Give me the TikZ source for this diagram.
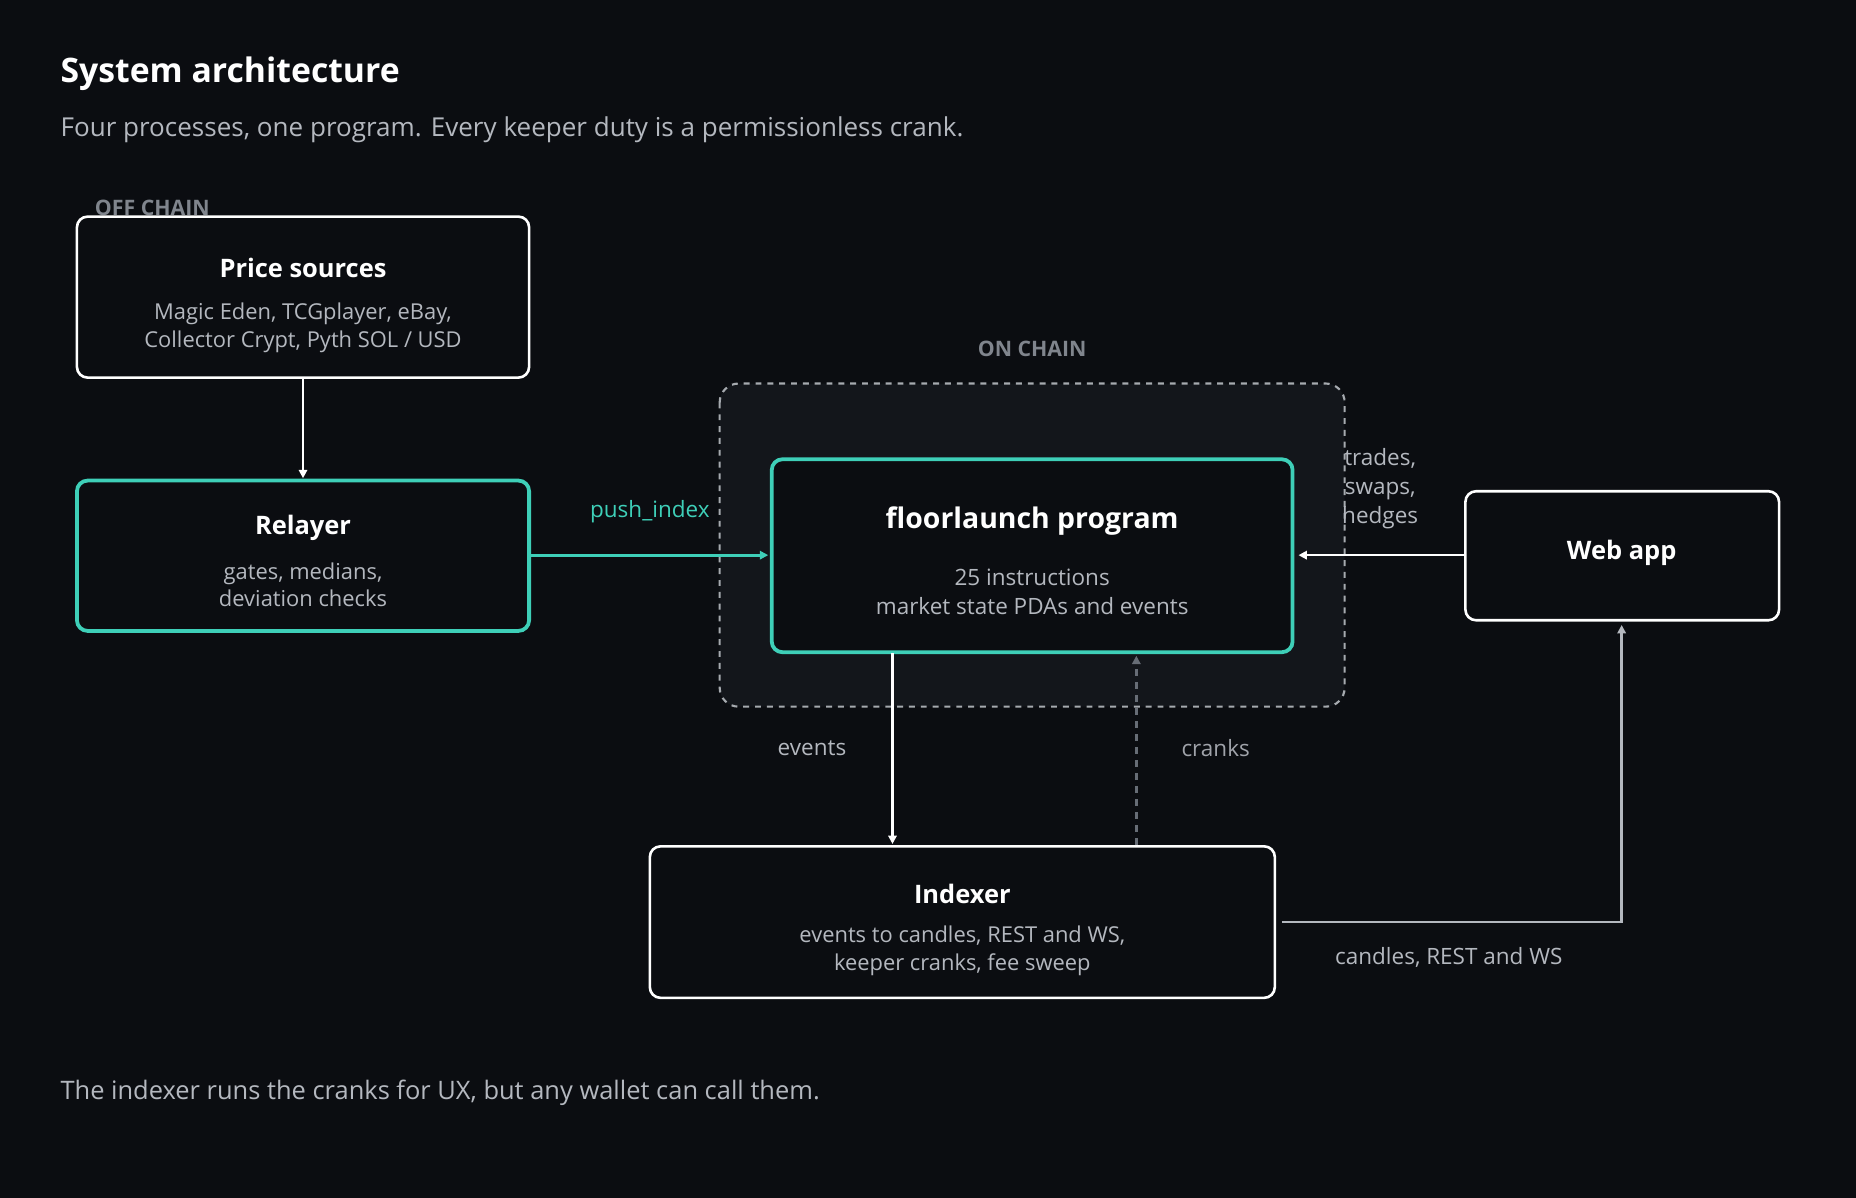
\documentclass[tikz,border=0pt]{standalone}
\usepackage{fontspec}
\setmainfont{Open Sans}
\usetikzlibrary{arrows.meta}
\definecolor{bg}{HTML}{0B0D11}
\definecolor{teal}{HTML}{3ECFB8}
\definecolor{oc}{HTML}{13161B}
\definecolor{txt}{HTML}{B4B8BF}
\definecolor{dim}{HTML}{80858D}
\begin{document}
\begin{tikzpicture}[x=1pt,y=-1pt,
  box/.style={draw=white,line width=2.2pt,rounded corners=9pt,fill=bg},
  tbox/.style={draw=teal,line width=3.2pt,rounded corners=9pt,fill=bg},
  ttl/.style={text=white,font=\fontsize{21.5}{26}\selectfont\bfseries,anchor=center},
  sub/.style={text=txt,font=\fontsize{18.5}{23.5}\selectfont,align=center,anchor=center},
  lab/.style={text=txt,font=\fontsize{19}{24.5}\selectfont,align=center},
  arr/.style={line width=2pt,-{Triangle[length=7pt,width=7pt]}}]
\fill[bg] (0,0) rectangle (1568,1012);
\useasboundingbox (0,0) rectangle (1568,1012);
\node[anchor=west,inner sep=0,text=white,font=\fontsize{28.5}{32}\selectfont\bfseries] (title) at (51,62) {System architecture};
\node[anchor=west,inner sep=0,text=txt,font=\fontsize{22}{26}\selectfont] (subt) at (51,110) {Four processes, one program. Every keeper duty is a permissionless crank.};
\node[anchor=west,inner sep=0,text=dim,font=\fontsize{18}{20}\selectfont\bfseries] (off) at (80,176) {OFF CHAIN};
\node[text=dim,font=\fontsize{18}{20}\selectfont\bfseries] (on) at (872,295) {ON CHAIN};
\draw[fill=oc,draw=dim!70,line width=1.8pt,dash pattern=on 5pt off 5pt,rounded corners=16pt] (608,324) rectangle (1136,597);
\draw[box] (65,183) rectangle (447,319);
\node[ttl] (pst) at (256,226) {Price sources};
\node[sub] (psd) at (256,277) {Magic Eden, TCGplayer, eBay,\\Collector Crypt, Pyth SOL / USD};
\draw[tbox] (65,406) rectangle (447,533);
\node[ttl] (rlt) at (256,446) {Relayer};
\node[sub] (rld) at (256,494) {gates, medians,\\deviation checks};
\draw[tbox] (652,388) rectangle (1092,551);
\node[ttl,font=\fontsize{24}{28}\selectfont\bfseries] (flt) at (872,440) {floorlaunch program};
\node[sub,font=\fontsize{19}{24.5}\selectfont] (fld) at (872,500) {25 instructions\\market state PDAs and events};
\draw[box] (1238,415) rectangle (1503,524);
\node[ttl] (wa) at (1370,467) {Web app};
\draw[box] (549,715) rectangle (1077,843);
\node[ttl] (ixt) at (813,755) {Indexer};
\node[sub] (ixd) at (813,803) {events to candles, REST and WS,\\keeper cranks, fee sweep};
\coordinate (a1) at (256,320); \coordinate (a2) at (256,404);
\coordinate (b1) at (448,469); \coordinate (b2) at (649,469);
\coordinate (c1) at (1237,469); \coordinate (c2) at (1097,469);
\coordinate (d1) at (754,552); \coordinate (d2) at (754,713);
\coordinate (e1) at (960,714); \coordinate (e2) at (960,554);
\coordinate (f1) at (1083,779); \coordinate (f2) at (1370,779); \coordinate (f3) at (1370,528);
\draw[arr,white] (a1) -- (a2);
\draw[arr,teal,line width=2.6pt] (b1) -- (b2);
\draw[arr,white] (c1) -- (c2);
\draw[arr,white] (d1) -- (d2);
\draw[arr,dim!120,dash pattern=on 6pt off 5pt] (e1) -- (e2);
\draw[arr,txt] (f1) -- (f2) -- (f3);
\node[text=teal,font=\fontsize{19}{24}\selectfont] (pl) at (549,432) {push\_index};
\node[lab] (tr) at (1166,413) {trades,\\swaps,\\hedges};
\node[lab] (ev) at (686,632) {events};
\node[lab,text=dim!75!white] (cr) at (1027,632) {cranks};
\node[lab] (cd) at (1224,809) {candles, REST and WS};
\node[anchor=west,inner sep=0,text=txt,font=\fontsize{21.5}{26}\selectfont] (foot) at (51,923) {The indexer runs the cranks for UX, but any wallet can call them.};
\end{tikzpicture}
\end{document}
